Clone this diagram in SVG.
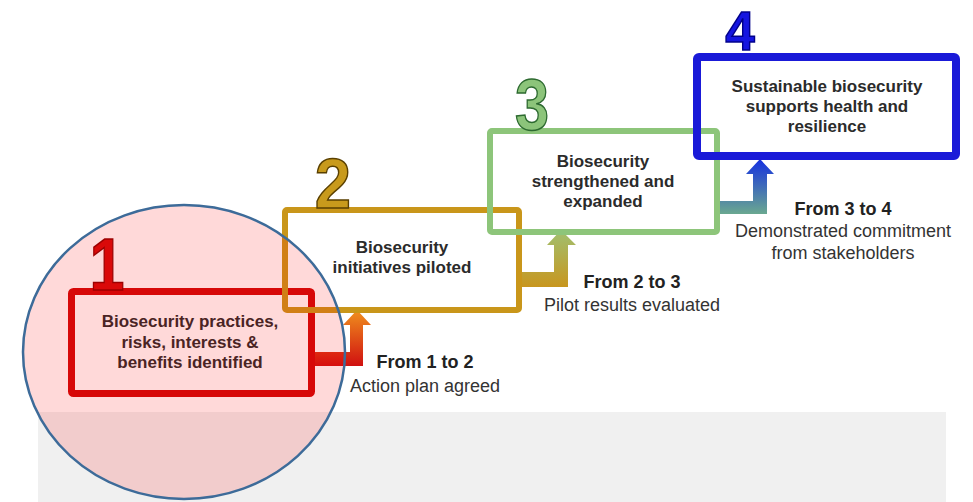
<svg xmlns="http://www.w3.org/2000/svg" width="973" height="502" viewBox="0 0 973 502">
<style>
.box{fill:none;stroke-linejoin:round}
.bt{font-family:"Liberation Sans",Arial,sans-serif;font-weight:bold;font-size:17px;fill:#2b2b2b;text-anchor:middle}
.lb{font-family:"Liberation Sans",Arial,sans-serif;font-size:18px;fill:#333;text-anchor:middle}
.lb.b{font-weight:bold;fill:#222}
.dg{font-family:"Liberation Sans",Arial,sans-serif;font-weight:bold;text-anchor:middle;stroke-width:1.5}
</style>
<defs>
<linearGradient id="g1" x1="0" y1="1" x2="0" y2="0"><stop offset="0" stop-color="#d01010"/><stop offset="1" stop-color="#f0901e"/></linearGradient>
<linearGradient id="g2" x1="0" y1="1" x2="0" y2="0"><stop offset="0" stop-color="#c8961e"/><stop offset="1" stop-color="#a0c070"/></linearGradient>
<linearGradient id="g3" x1="0" y1="1" x2="0" y2="0"><stop offset="0" stop-color="#6aa890"/><stop offset="1" stop-color="#1530e0"/></linearGradient>
</defs>
<rect x="38" y="412" width="908" height="90" fill="#f0f0f0"/>
<g id="connectors">
<path d="M313,352 H350 V325 H343 L357,310 L371,325 H363 V366 H313 Z" fill="url(#g1)"/>
<path d="M520,272 H554 V245 H547 L561,230 L576,245 H568 V287 H520 Z" fill="url(#g2)"/>
<path d="M718,201 H753 V174 H746 L760,159 L774,174 H767 V214 H718 Z" fill="url(#g3)"/>
<text class="lb b" x="425" y="368">From 1 to 2</text>
<text class="lb" x="425" y="392">Action plan agreed</text>
<text class="lb b" x="632" y="288">From 2 to 3</text>
<text class="lb" x="632" y="311">Pilot results evaluated</text>
<text class="lb b" x="843" y="215">From 3 to 4</text>
<text class="lb" x="843" y="237">Demonstrated commitment</text>
<text class="lb" x="843" y="259">from stakeholders</text>
</g>
<g id="node1">
<rect class="box" x="71.5" y="291.5" width="240" height="102" rx="2" stroke="#d10a0a" stroke-width="7"/>
<text class="dg" transform="translate(107,290) scale(0.85,1)" font-size="74" fill="#d40b0b" stroke="#8a0000">1</text>
<text class="bt" x="190" y="327">Biosecurity practices,</text>
<text class="bt" x="190" y="348">risks, interests &amp;</text>
<text class="bt" x="190" y="368">benefits identified</text>
</g>
<g id="node2">
<rect class="box" x="285" y="210" width="234" height="100" rx="2" stroke="#c9961a" stroke-width="6"/>
<text class="dg" transform="translate(333,208) scale(0.92,1)" font-size="71" fill="#c89a1c" stroke="#5a4000">2</text>
<text class="bt" x="402" y="253">Biosecurity</text>
<text class="bt" x="402" y="273">initiatives piloted</text>
</g>
<g id="node3">
<rect class="box" x="490" y="131" width="227" height="101" rx="2" stroke="#8dc57a" stroke-width="6"/>
<text class="dg" transform="translate(532,130) scale(0.85,1)" font-size="72" fill="#8cc47a" stroke="#2d6a30">3</text>
<text class="bt" x="603" y="167">Biosecurity</text>
<text class="bt" x="603" y="187">strengthened and</text>
<text class="bt" x="603" y="207">expanded</text>
</g>
<g id="node4">
<rect class="box" x="697" y="57" width="259" height="99" rx="2" stroke="#1a1ad8" stroke-width="8"/>
<text class="dg" transform="translate(740,50) scale(0.95,1)" font-size="56" fill="#1515e0" stroke="#00008a">4</text>
<text class="bt" x="827" y="92">Sustainable biosecurity</text>
<text class="bt" x="827" y="112">supports health and</text>
<text class="bt" x="827" y="132">resilience</text>
</g>
<ellipse cx="184" cy="352" rx="161" ry="147" fill="#ff0000" fill-opacity="0.15" stroke="#3d6b99" stroke-width="2.5"/>
</svg>
